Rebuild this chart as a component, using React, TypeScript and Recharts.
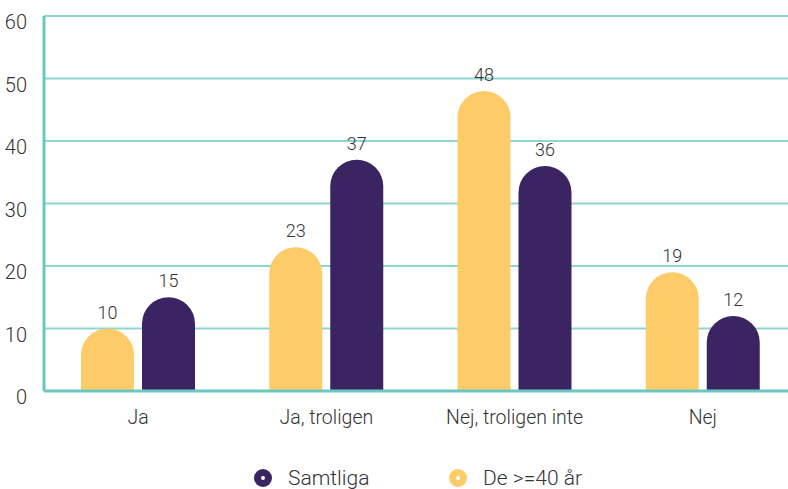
// Staplar per svarsalternativ: De >=40 år mot Samtliga. Rundade toppar, teal rutnät.
import { BarChart, Bar, XAxis, YAxis, CartesianGrid, LabelList } from 'recharts'

const categories = ['Ja', 'Ja, troligen', 'Nej, troligen inte', 'Nej']
const over40 = [10, 23, 48, 19]
const samtliga = [15, 37, 36, 12]
const yTicks = [0, 10, 20, 30, 40, 50, 60]

const YELLOW = '#FECB69'
const PURPLE = '#3A2461'
const GRID = '#8ED6D2'
const AXIS = '#6CC7C2'
const TEXT = '#333333'
const FONT = 'Roboto, sans-serif'

const data = categories.map((name, i) => ({ name, over40: over40[i], samtliga: samtliga[i] }))

function LegendDot({ color }: { color: string }) {
  return (
    <svg width={20} height={20} style={{ marginRight: 15 }}>
      <circle cx={10} cy={10} r={9} fill={color} />
      <circle cx={10} cy={10} r={2} fill="#fff" />
    </svg>
  )
}

const labelStyle = { fill: TEXT, fontSize: 18, fontFamily: FONT, fontWeight: 300 }

export default function App() {
  return (
    <div style={{ position: 'absolute', left: 0, top: 0, width: 788, height: 489, overflow: 'hidden', background: '#fff', fontFamily: FONT }}>
      <BarChart
        width={800}
        height={489}
        data={data}
        margin={{ top: 16, right: 3, left: 0, bottom: 0 }}
        barSize={53}
        barGap={8}
      >
        <CartesianGrid vertical={false} stroke={GRID} strokeWidth={2} />
        <XAxis
          dataKey="name"
          height={98}
          axisLine={{ stroke: AXIS, strokeWidth: 3 }}
          tickLine={false}
          tick={{ fill: TEXT, fontSize: 19.5, fontFamily: FONT, fontWeight: 300 }}
          tickMargin={13}
        />
        <YAxis
          width={44}
          domain={[0, 60]}
          ticks={yTicks}
          interval={0}
          axisLine={{ stroke: AXIS, strokeWidth: 3 }}
          tickLine={false}
          tickMargin={11}
          tick={{ fill: TEXT, fontSize: 20, fontFamily: FONT, fontWeight: 300, dy: 6 }}
        />
        <Bar dataKey="over40" fill={YELLOW} radius={[27, 27, 0, 0]} isAnimationActive={false}>
          <LabelList dataKey="over40" position="top" offset={10} {...labelStyle} />
        </Bar>
        <Bar dataKey="samtliga" fill={PURPLE} radius={[27, 27, 0, 0]} isAnimationActive={false}>
          <LabelList dataKey="samtliga" position="top" offset={10} {...labelStyle} />
        </Bar>
      </BarChart>
      <div style={{ position: 'absolute', top: 466, left: 253, display: 'flex', alignItems: 'center', fontSize: 21, fontWeight: 300, color: TEXT }}>
        <LegendDot color={PURPLE} />
        <span>Samtliga</span>
      </div>
      <div style={{ position: 'absolute', top: 466, left: 448, display: 'flex', alignItems: 'center', fontSize: 21, fontWeight: 300, color: TEXT }}>
        <LegendDot color={YELLOW} />
        <span>De &gt;=40 år</span>
      </div>
    </div>
  )
}
